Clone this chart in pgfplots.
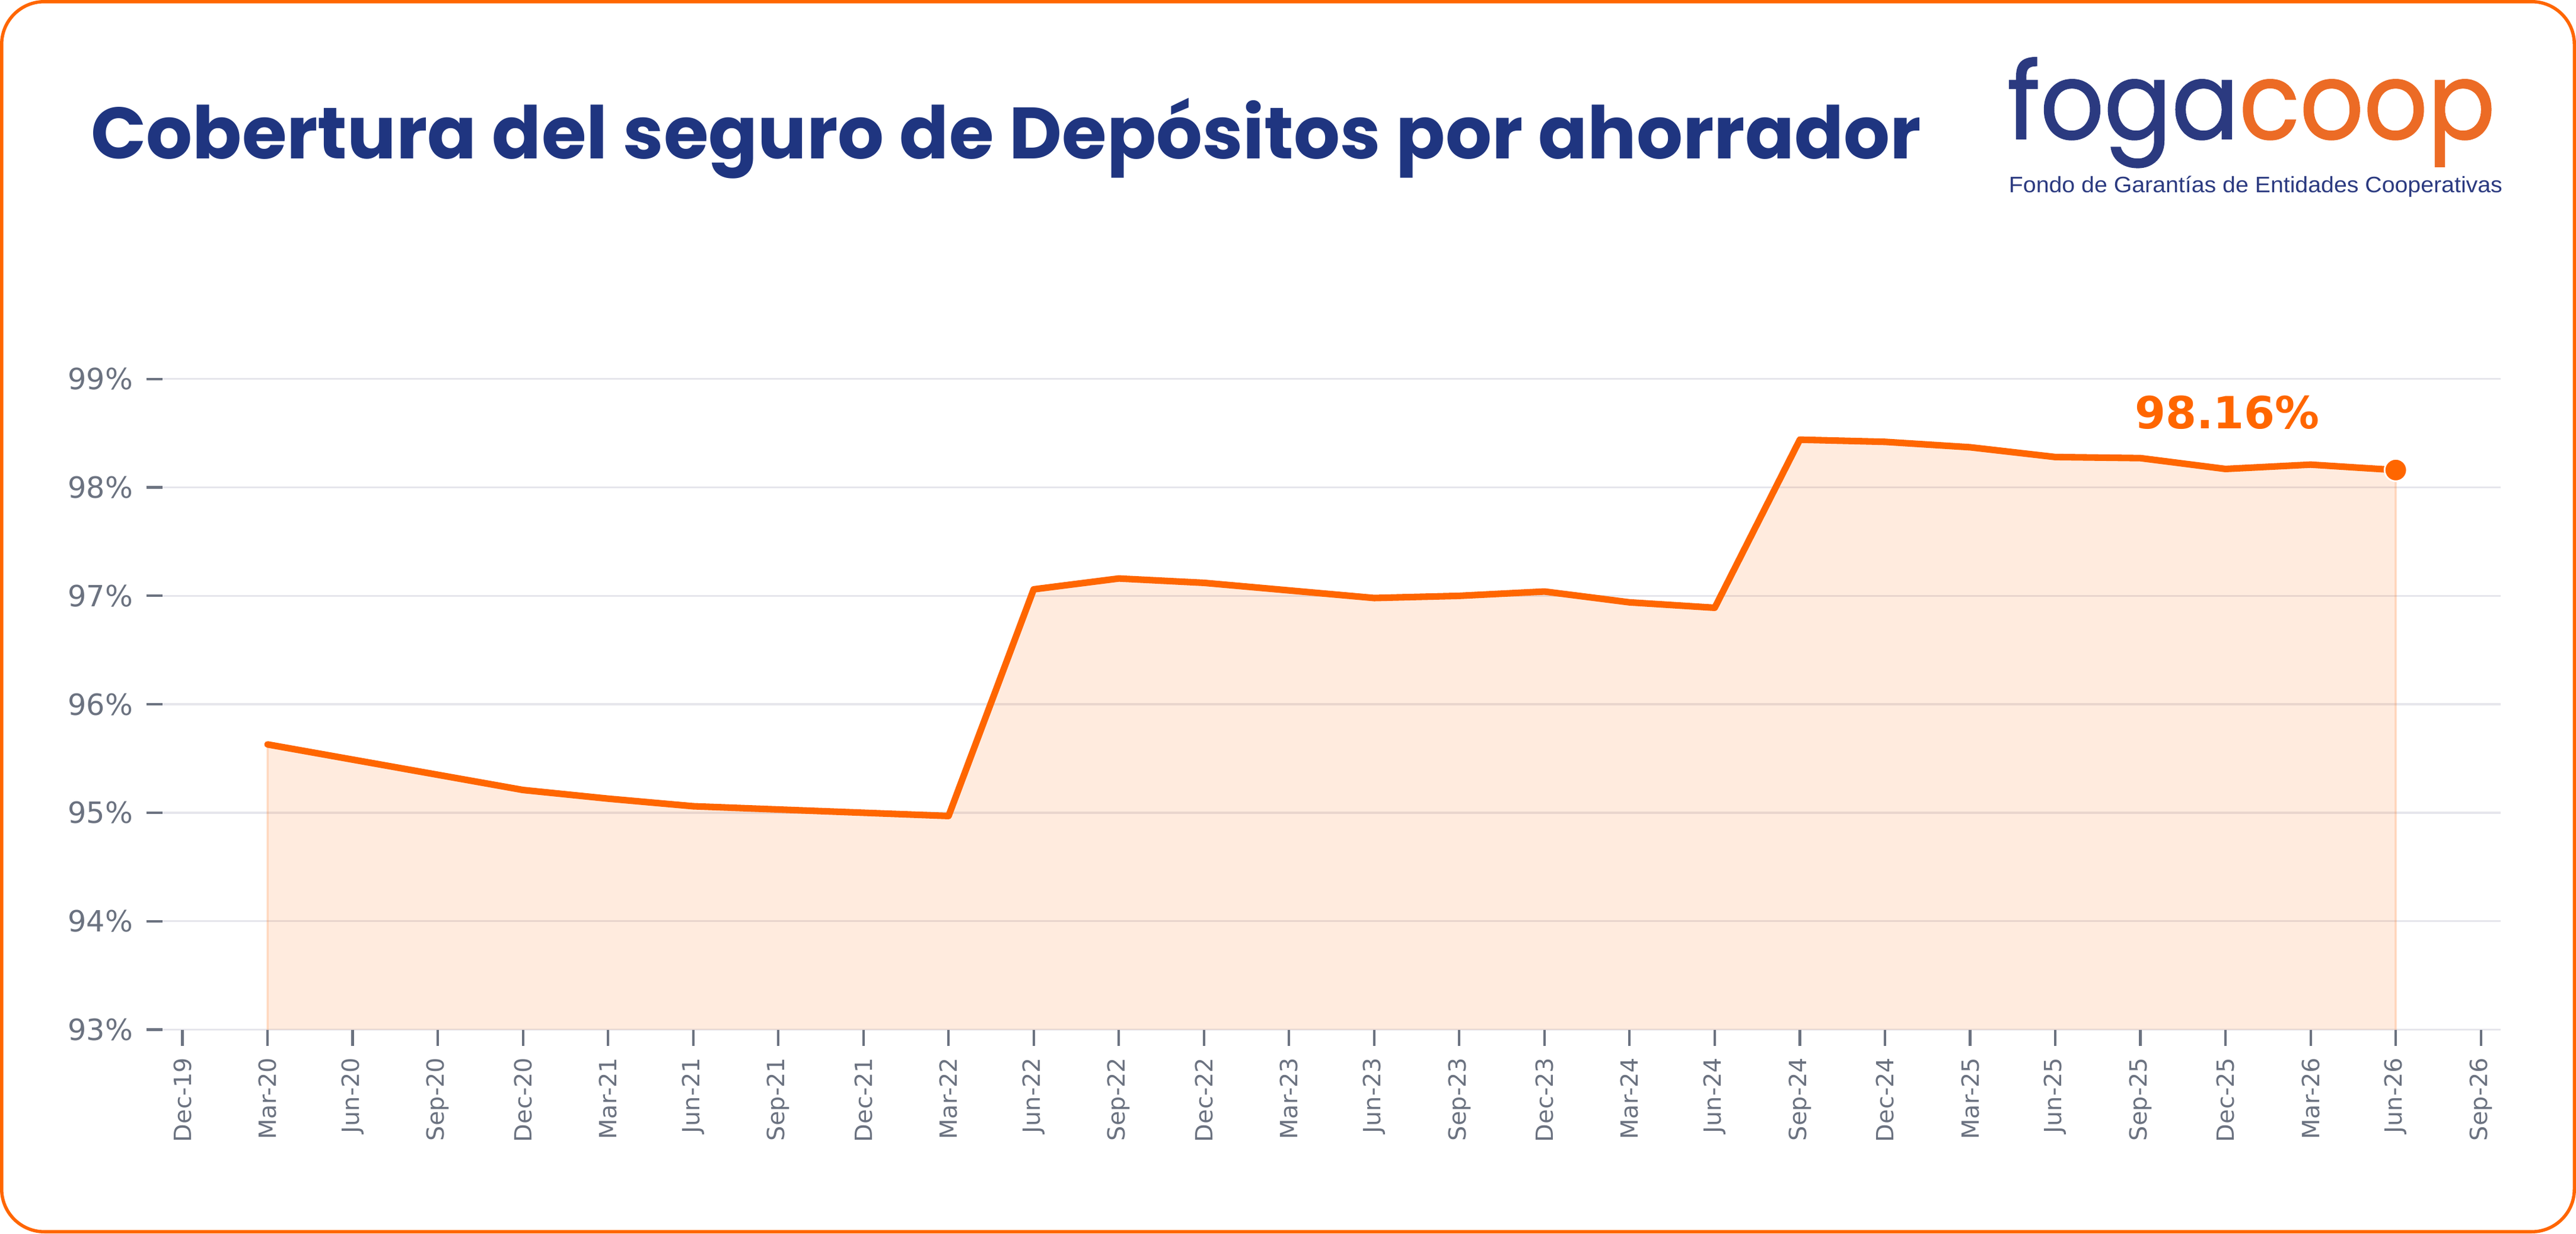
\documentclass[border=0pt]{standalone}
\usepackage{fontspec}
\usepackage{graphicx}
\usepackage{pgfplots}
\usepackage{pgfplotstable}
\pgfplotsset{compat=1.18}
\newfontfamily\dejavu{DejaVu Sans}
\newfontfamily\titlefont{Poppins}
\newfontfamily\logofont[FakeBold=1.2]{Poppins}
\newfontfamily\subfont{Liberation Sans}
\definecolor{fgorange}{HTML}{FF6600}
\definecolor{titleblue}{HTML}{1F3580}
\definecolor{logoblue}{HTML}{2B3A80}
\definecolor{logoorange}{HTML}{EC6B25}
\definecolor{tickgray}{HTML}{6B7280}
\definecolor{gridgray}{HTML}{E6E6EC}

\pgfplotstableread{
x y
1 95.63
2 95.49
3 95.35
4 95.21
5 95.13
6 95.06
7 95.03
8 95.00
9 94.97
10 97.06
11 97.16
12 97.12
13 97.05
14 96.98
15 97.00
16 97.04
17 96.94
18 96.89
19 98.44
20 98.42
21 98.37
22 98.28
23 98.27
24 98.17
25 98.21
26 98.16
}\coverage

\begin{document}
\begin{tikzpicture}
\fill[white] (0,0) rectangle (784pt,375.3pt);
\draw[fgorange, line width=1pt, rounded corners=13pt] (0.5pt,0.5pt) rectangle (783.5pt,374.8pt);

% title
\node[anchor=base west, inner sep=0pt, text=titleblue] at (27.5pt,327pt)
  {\resizebox{557pt}{!}{\titlefont\bfseries\fontsize{22}{26}\selectfont Cobertura del seguro de Depósitos por ahorrador}};

% logo
\node[anchor=north west, inner sep=0pt] at (610.7pt,358pt)
  {\resizebox*{148.5pt}{33.5pt}{\logofont\fontsize{35}{40}\selectfont\textcolor{logoblue}{foga}\textcolor{logoorange}{coop}}};
\node[anchor=base west, inner sep=0pt, text=logoblue] at (611.2pt,316.8pt)
  {\resizebox{150.2pt}{5pt}{\subfont Fondo de Garantías de Entidades Cooperativas}};

\begin{axis}[
  at={(49.5pt,62pt)}, anchor=south west,
  scale only axis, width=711.5pt, height=211.2pt,
  xmin=-0.232, xmax=27.23,
  ymin=93, ymax=99.4,
  axis line style={draw=none},
  tick pos=left,
  tick align=outside,
  major tick length=5pt,
  major tick style={tickgray, line width=0.75pt},
  ymajorgrids,
  major grid style={gridgray, line width=0.6pt},
  ytick={93,94,95,96,97,98,99},
  yticklabels={93\%,94\%,95\%,96\%,97\%,98\%,99\%},
  xtick={0,...,27},
  xticklabels={Dec-19,Mar-20,Jun-20,Sep-20,Dec-20,Mar-21,Jun-21,Sep-21,Dec-21,Mar-22,Jun-22,Sep-22,Dec-22,Mar-23,Jun-23,Sep-23,Dec-23,Mar-24,Jun-24,Sep-24,Dec-24,Mar-25,Jun-25,Sep-25,Dec-25,Mar-26,Jun-26,Sep-26},
  yticklabel style={font=\dejavu\fontsize{8.9}{10}\selectfont, text=tickgray, xshift=-0.5pt},
  xticklabel style={font=\dejavu\fontsize{7.2}{9}\selectfont, text=tickgray, rotate=90, anchor=east},
  clip=false,
]
\addplot[draw=fgorange, draw opacity=0.2, line width=0.6pt, fill=fgorange, fill opacity=0.13]
  coordinates {(1,93) (1,95.63) (2,95.49) (3,95.35) (4,95.21) (5,95.13) (6,95.06) (7,95.03) (8,95.00) (9,94.97) (10,97.06) (11,97.16) (12,97.12) (13,97.05) (14,96.98) (15,97.00) (16,97.04) (17,96.94) (18,96.89) (19,98.44) (20,98.42) (21,98.37) (22,98.28) (23,98.27) (24,98.17) (25,98.21) (26,98.16) (26,93)};
\addplot[fgorange, line width=2pt, line join=round, line cap=round] table[x=x,y=y] {\coverage};
\addplot[only marks, mark=*, mark size=3.4pt, mark options={fill=fgorange, draw=white, line width=0.5pt}] coordinates {(26,98.16)};
\node[anchor=base, inner sep=0pt, text=fgorange, font=\dejavu\bfseries\fontsize{13.5}{15}\selectfont] at (axis cs:24.02,98.54) {98.16\%};
\end{axis}
\end{tikzpicture}
\end{document}
